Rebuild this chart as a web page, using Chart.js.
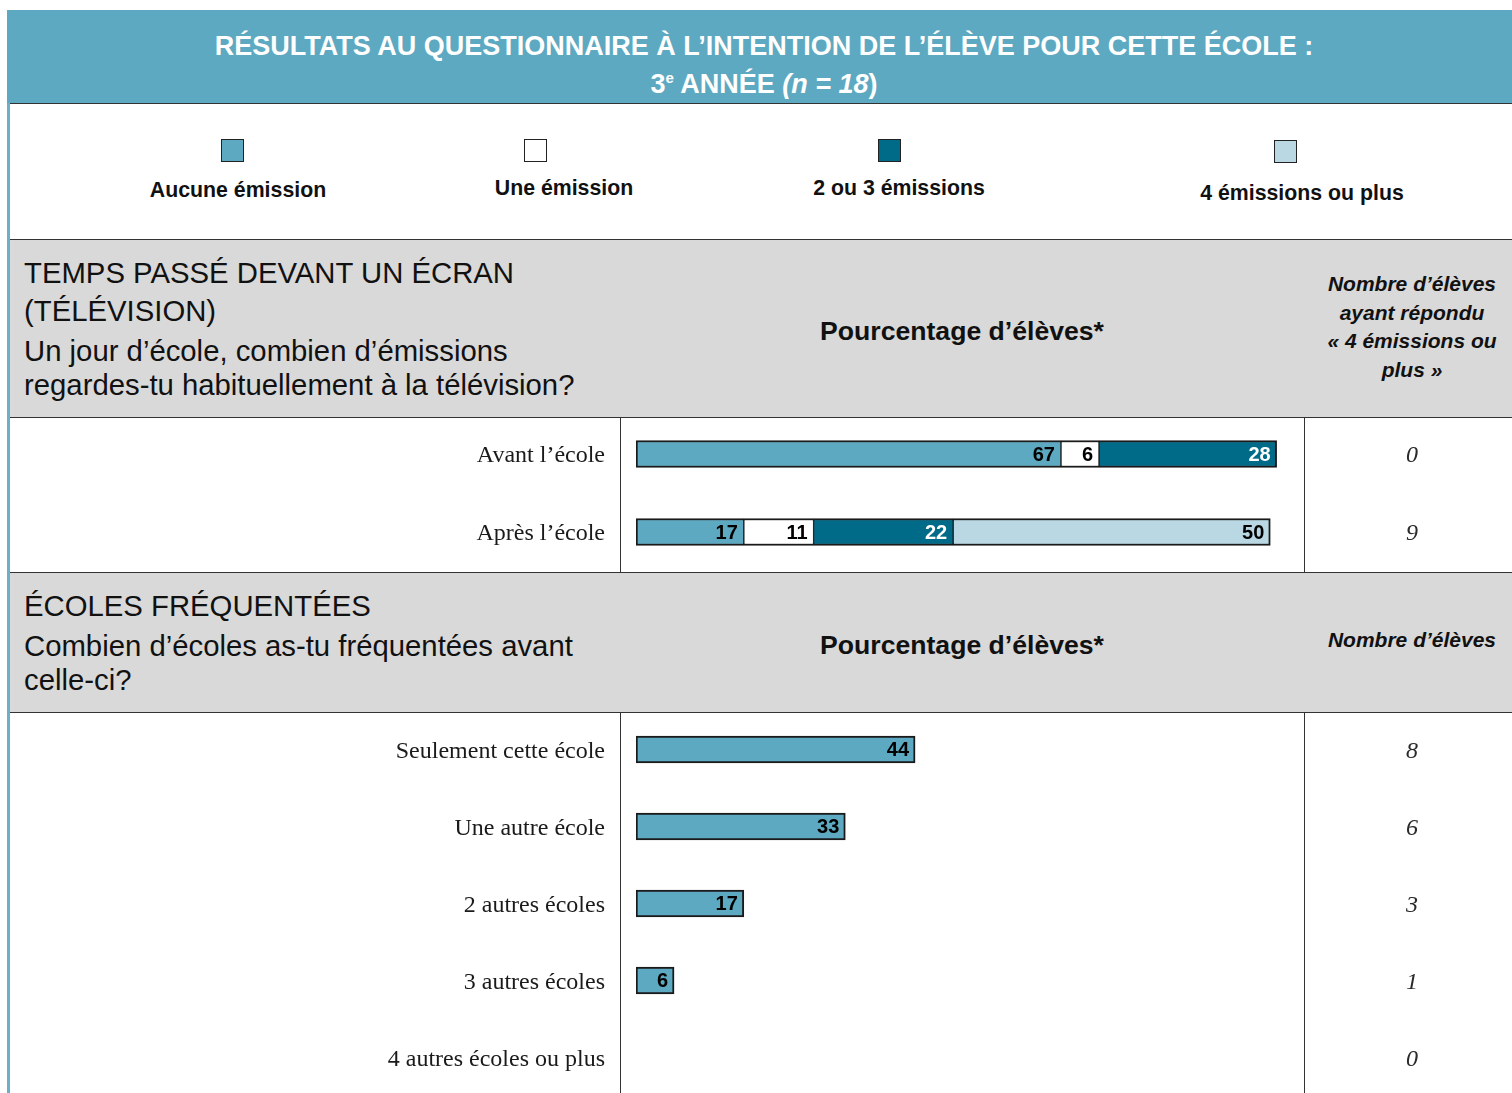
<!DOCTYPE html>
<html lang="fr">
<head>
<meta charset="utf-8">
<title>Résultats au questionnaire – 3e année</title>
<script src="https://cdn.jsdelivr.net/npm/chart.js@4.4.1/dist/chart.umd.min.js"></script>
<style>
  html, body { margin: 0; padding: 0; }
  body {
    width: 1512px; height: 1093px; overflow: hidden; position: relative;
    background: #fff; color: #111;
    font-family: "Liberation Sans", Arial, sans-serif;
  }
  .abs { position: absolute; }
  .banner { left: 7px; top: 10px; width: 1505px; height: 93px; background: #5DA9C1; border-bottom: 1px solid #333; }
  .banner-title {
    left: 16px; top: 27px; width: 1496px; text-align: center;
    color: #fff; font-weight: bold; font-size: 27px; line-height: 38px;
  }
  .banner-title sup { font-size: 15px; vertical-align: 10px; line-height: 0; }
  .stripe { left: 7px; top: 103px; width: 3px; height: 990px; background: #6DB0C6; }
  .hl { left: 10px; width: 1502px; height: 1px; background: #333; }
  .vl { width: 1px; background: #333; }
  .grey { left: 10px; width: 1502px; background: #D9D9D9; }
  .swatch { width: 23px; height: 23px; box-sizing: border-box; border: 1.5px solid #222; }
  .legend-label { font-weight: bold; font-size: 21.3px; white-space: nowrap; transform: translateX(-50%); line-height: 24px; }
  .section-text { left: 24px; font-size: 29.3px; line-height: 38px; color: #111; white-space: nowrap; }
  .section-text .q { line-height: 34px; display: block; }
  .col-head { font-weight: bold; font-size: 26.6px; white-space: nowrap; transform: translateX(-50%); line-height: 30px; }
  .count-head {
    left: 1312px; width: 200px; text-align: center;
    font-weight: bold; font-style: italic; font-size: 21px; line-height: 28.5px;
  }
  canvas { position: absolute; }
</style>
</head>
<body>

<div class="abs banner"></div>
<div class="abs banner-title">
  RÉSULTATS AU QUESTIONNAIRE À L’INTENTION DE L’ÉLÈVE POUR CETTE ÉCOLE :<br>
  3<sup>e</sup> ANNÉE <i>(n = 18</i>)
</div>
<div class="abs stripe"></div>

<div id="legend"></div>

<div class="abs hl" style="top:239px"></div>
<div class="abs grey" style="top:240px;height:177px"></div>
<div class="abs hl" style="top:417px"></div>
<div class="abs section-text" style="top:254px">
  TEMPS PASSÉ DEVANT UN ÉCRAN<br>(TÉLÉVISION)
  <span class="q" style="margin-top:4px">Un jour d’école, combien d’émissions<br>regardes-tu habituellement à la télévision?</span>
</div>
<div class="abs col-head" style="left:962px;top:316px">Pourcentage d’élèves*</div>
<div class="abs count-head" style="top:270px">Nombre d’élèves<br>ayant répondu<br>« 4 émissions ou<br>plus »</div>

<div class="abs vl" style="left:620px;top:418px;height:154px"></div>
<div class="abs vl" style="left:1304px;top:418px;height:154px"></div>

<div class="abs hl" style="top:572px"></div>
<div class="abs grey" style="top:573px;height:139px"></div>
<div class="abs hl" style="top:712px"></div>
<div class="abs section-text" style="top:587px">
  ÉCOLES FRÉQUENTÉES
  <span class="q" style="margin-top:4px">Combien d’écoles as-tu fréquentées avant<br>celle-ci?</span>
</div>
<div class="abs col-head" style="left:962px;top:630px">Pourcentage d’élèves*</div>
<div class="abs count-head" style="top:626px">Nombre d’élèves</div>

<div class="abs vl" style="left:620px;top:713px;height:380px"></div>
<div class="abs vl" style="left:1304px;top:713px;height:380px"></div>

<canvas id="tvChart" width="1501" height="156" style="left:11px;top:415px"></canvas>
<canvas id="schoolChart" width="1501" height="385" style="left:11px;top:711px"></canvas>

<script>
// Temps passé devant la télévision (pourcentages)
const tvCategories = ['Avant l’école', 'Après l’école'];
const tvNone = [67, 17];
const tvOne = [6, 11];
const tvTwoThree = [28, 22];
const tvFourPlus = [0, 50];
const tvFourPlusCounts = [0, 9];

// Écoles fréquentées (pourcentages et nombres)
const schoolCategories = ['Seulement cette école', 'Une autre école', '2 autres écoles', '3 autres écoles', '4 autres écoles ou plus'];
const schoolPercents = [44, 33, 17, 6, 0];
const schoolCounts = [8, 6, 3, 1, 0];

const seriesLabels = ['Aucune émission', 'Une émission', '2 ou 3 émissions', '4 émissions ou plus'];
const seriesColors = ['#5DA9C1', '#FFFFFF', '#006A89', '#B9D8E3'];
const valueColors = ['#000', '#000', '#fff', '#000'];

// legend boxes, spread like the printed form
const legendPos = [
  { sx: 221, sy: 139, lx: 238, ly: 178 },
  { sx: 524, sy: 139, lx: 564, ly: 176 },
  { sx: 878, sy: 139, lx: 899, ly: 176 },
  { sx: 1274, sy: 140, lx: 1302, ly: 181 }
];
const legend = document.getElementById('legend');
seriesLabels.forEach((label, i) => {
  const p = legendPos[i];
  const box = document.createElement('div');
  box.className = 'abs swatch';
  box.style.cssText = `left:${p.sx}px;top:${p.sy}px;background:${seriesColors[i]}`;
  const txt = document.createElement('div');
  txt.className = 'abs legend-label';
  txt.style.cssText = `left:${p.lx}px;top:${p.ly}px`;
  txt.textContent = label;
  legend.appendChild(box);
  legend.appendChild(txt);
});

const serif = '"Liberation Serif", "Times New Roman", serif';
const sans = '"Liberation Sans", Arial, sans-serif';

// thick outline round each stacked bar, single line between segments
function segmentBorder(ctx) {
  const i = ctx.dataIndex;
  const sets = ctx.chart.data.datasets;
  const shown = sets.map((d, k) => k).filter(k => sets[k].data[i] > 0);
  return {
    top: 2, bottom: 2,
    left: ctx.datasetIndex === shown[0] ? 2 : 1,
    right: ctx.datasetIndex === shown[shown.length - 1] ? 2 : 1
  };
}

// values inside the bars + the count column on the right
const barLabels = {
  id: 'barLabels',
  afterDatasetsDraw(chart, args, opts) {
    const ctx = chart.ctx;
    ctx.save();
    ctx.font = `bold 20px ${sans}`;
    ctx.textAlign = 'right';
    ctx.textBaseline = 'middle';
    chart.data.datasets.forEach((ds, di) => {
      chart.getDatasetMeta(di).data.forEach((bar, i) => {
        const v = ds.data[i];
        if (!v) return;
        ctx.fillStyle = ds.valueColor;
        ctx.fillText(v, bar.x - 6, bar.y + 1);
      });
    });
    ctx.font = `italic 24px ${serif}`;
    ctx.textAlign = 'center';
    ctx.fillStyle = '#2a2a2a';
    const y = chart.scales.y;
    opts.counts.forEach((c, i) => ctx.fillText(c, opts.countX, y.getPixelForValue(i) + 2));
    ctx.restore();
  }
};

function barOptions(counts) {
  return {
    indexAxis: 'y',
    responsive: false,
    animation: false,
    events: [],
    layout: { padding: { left: 0, right: 210, top: 0, bottom: 0 } },
    plugins: {
      legend: { display: false },
      tooltip: { enabled: false },
      barLabels: { counts, countX: 1401 }
    },
    scales: {
      x: { stacked: true, min: 0, max: 105, display: false },
      y: {
        stacked: true,
        grid: { display: false, drawTicks: false },
        border: { display: false },
        ticks: { padding: 31, labelOffset: 2, color: '#1a1a1a', font: { family: serif, size: 24 } },
        afterFit(scale) {
          scale.width = 625;
          scale.paddingTop = 0;
          scale.paddingBottom = 0;
        }
      }
    }
  };
}

const tvSeries = [tvNone, tvOne, tvTwoThree, tvFourPlus];
new Chart(document.getElementById('tvChart'), {
  type: 'bar',
  data: {
    labels: tvCategories,
    datasets: tvSeries.map((values, i) => ({
      label: seriesLabels[i],
      data: values,
      backgroundColor: seriesColors[i],
      borderColor: '#1a1a1a',
      borderWidth: segmentBorder,
      borderSkipped: false,
      barThickness: 27,
      valueColor: valueColors[i]
    }))
  },
  options: barOptions(tvFourPlusCounts),
  plugins: [barLabels]
});

new Chart(document.getElementById('schoolChart'), {
  type: 'bar',
  data: {
    labels: schoolCategories,
    datasets: [{
      label: 'Pourcentage d’élèves',
      data: schoolPercents,
      backgroundColor: seriesColors[0],
      borderColor: '#1a1a1a',
      borderWidth: 2,
      borderSkipped: false,
      barThickness: 27,
      valueColor: '#000'
    }]
  },
  options: barOptions(schoolCounts),
  plugins: [barLabels]
});
</script>
</body>
</html>
